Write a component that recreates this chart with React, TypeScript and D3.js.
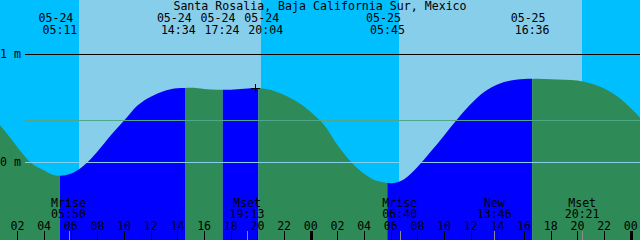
import React from "react";
import * as d3 from "d3";

// ---- data (hours since 05-24 00:00) ----
const title = "Santa Rosalia, Baja California Sur, Mexico";

// hourly water level in metres, starting 05-24 00:00
const tideLevels = [
  0.44, 0.298, 0.14, -0.004, -0.075, -0.125, -0.105, -0.028, 0.1, 0.25,
  0.386, 0.525, 0.607, 0.66, 0.686, 0.689, 0.679, 0.671, 0.672, 0.68,
  0.687, 0.668, 0.622, 0.557, 0.465, 0.344, 0.16, 0.006, -0.105, -0.174,
  -0.193, -0.156, -0.044, 0.099, 0.249, 0.4, 0.539, 0.65, 0.72, 0.757,
  0.77, 0.772, 0.768, 0.763, 0.756, 0.729, 0.682, 0.608, 0.5, 0.372,
];

// high / low tide events
const tideEventDates = ["05-24", "05-24", "05-24", "05-24", "05-25", "05-25"];
const tideEventTimes = ["05:11", "14:34", "17:24", "20:04", "05:45", "16:36"];
const tideEventKinds = ["low", "high", "low", "high", "low", "high"];

// sunrise / sunset
const sunriseTimes = ["05-24 06:36", "05-25 06:36"];
const sunsetTimes = ["05-24 20:14", "05-25 20:20"];

// moon events
const moonNames = ["Mrise", "Mset", "Mrise", "New", "Mset"];
const moonTimes = ["05-24 05:50", "05-24 19:13", "05-25 06:40", "05-25 13:46", "05-25 20:21"];

// hour ticks (hours since 05-24 00:00)
const tickHours = [2, 4, 6, 8, 10, 12, 14, 16, 18, 20, 22, 24, 26, 28, 30, 32, 34, 36, 38, 40, 42, 44, 46, 48];

// level lines
const levelLabels = [1, 0];
const meanSeaLevel = 0.386;

// current-time marker
const markTime = "05-24 19:49";
const markLevel = 0.685;

// ---- helpers ----
function toHours(s: string): number {
  const [md, hm] = s.split(" ");
  const day = +md.split("-")[1];
  const [h, m] = hm.split(":").map(Number);
  return (day - 24) * 24 + h + m / 60;
}

function spread(xs: number[], gap: number): number[] {
  const p = xs.slice();
  for (let k = 0; k < 200; k++) {
    for (let i = 0; i < p.length - 1; i++) {
      const d = p[i + 1] - p[i];
      if (d < gap) {
        const m = (gap - d) / 2;
        p[i] -= m;
        p[i + 1] += m;
      }
    }
  }
  return p;
}

const W = 640;
const H = 240;
const FONT = "'DejaVu Sans Mono', 'Liberation Mono', monospace";
const FS = 11.6;

const NIGHT = "#00BFFF";
const DAY = "#87CEEB";
const RISE = "#0000FF";
const FALL = "#2E8B57";

export default function App() {
  const x = d3.scaleLinear().domain([0.69, 48.69]).range([0, W]);
  const y = d3.scaleLinear().domain([0, 1]).range([162.3, 54.2]);

  const pts = tideLevels.map((v, i) => [i, v] as [number, number]);
  const area = d3
    .area<[number, number]>()
    .x((d) => x(d[0]))
    .y0(H)
    .y1((d) => y(d[1]))
    .curve(d3.curveMonotoneX);
  const areaPath = area(pts) || "";

  const evHours = tideEventTimes.map((t, i) => toHours(tideEventDates[i] + " " + t));

  // fill intervals: rising (low->high) blue, falling seagreen
  const bounds = [x.domain()[0] - 2, ...evHours, x.domain()[1] + 2];
  const intervals = bounds.slice(0, -1).map((b, i) => {
    const next = bounds[i + 1];
    // interval ends at event i; if that event is a high, tide was rising
    const kindAtEnd = i < tideEventKinds.length ? tideEventKinds[i] : tideEventKinds[tideEventKinds.length - 1] === "high" ? "low" : "high";
    return { a: b, b: next, color: kindAtEnd === "high" ? RISE : FALL };
  });

  const labelX = spread(evHours.map((h) => x(h)), 43.7);

  const days = sunriseTimes.map((s, i) => ({ a: toHours(s), b: toHours(sunsetTimes[i]) }));

  const fmt2 = d3.format("02");

  return (
    <svg width={W} height={H} style={{ display: "block" }} xmlns="http://www.w3.org/2000/svg">
      <style>{`body{margin:0}`}</style>
      <defs>
        {intervals.map((iv, i) => (
          <clipPath id={`iv${i}`} key={i}>
            <rect x={x(iv.a)} y={0} width={x(iv.b) - x(iv.a)} height={H} />
          </clipPath>
        ))}
      </defs>
      {/* background */}
      <rect x={0} y={0} width={W} height={H} fill={NIGHT} />
      {days.map((d, i) => (
        <rect key={i} x={x(d.a)} y={0} width={x(d.b) - x(d.a)} height={H} fill={DAY} shapeRendering="crispEdges" />
      ))}
      {/* tide fill */}
      {intervals.map((iv, i) => (
        <path key={i} d={areaPath} fill={iv.color} clipPath={`url(#iv${i})`} />
      ))}
      {/* level lines */}
      <line x1={25} x2={W} y1={y(meanSeaLevel)} y2={y(meanSeaLevel)} stroke="#4FA88C" strokeWidth={1} shapeRendering="crispEdges" />
      {levelLabels.map((lv) => (
        <g key={lv}>
          <line x1={25} x2={W} y1={y(lv)} y2={y(lv)} stroke={lv === 0 ? DAY : "#000"} strokeWidth={1} shapeRendering="crispEdges" />
          <text x={0} y={y(lv) + 4} fontFamily={FONT} fontSize={FS} fill="#000">
            {`${lv} m`}
          </text>
        </g>
      ))}
      {/* marker */}
      <g stroke="#000" strokeWidth={1} shapeRendering="crispEdges">
        <line x1={x(toHours(markTime)) - 4} x2={x(toHours(markTime)) + 4.5} y1={y(markLevel) + 0.5} y2={y(markLevel) + 0.5} />
        <line x1={x(toHours(markTime)) + 0.5} x2={x(toHours(markTime)) + 0.5} y1={y(markLevel) - 4} y2={y(markLevel) + 4.5} />
      </g>
      {/* title */}
      <text x={W / 2} y={10} textAnchor="middle" fontFamily={FONT} fontSize={FS} fill="#000">
        {title}
      </text>
      {/* tide event labels */}
      {tideEventTimes.map((t, i) => (
        <g key={i} fontFamily={FONT} fontSize={FS} fill="#000" textAnchor="middle">
          <text x={labelX[i] - 4} y={21.7}>{tideEventDates[i]}</text>
          <text x={labelX[i]} y={33.8}>{t}</text>
        </g>
      ))}
      {/* moon events */}
      {moonNames.map((n, i) => {
        const h = toHours(moonTimes[i]);
        const xx = x(h);
        return (
          <g key={i}>
            <line x1={Math.round(xx) + 0.5} x2={Math.round(xx) + 0.5} y1={231} y2={H} stroke="#8C8C8C" strokeWidth={1} />
            <text x={xx} y={206.5} textAnchor="middle" fontFamily={FONT} fontSize={FS} fill="#000">
              {n}
            </text>
            <text x={xx} y={218.4} textAnchor="middle" fontFamily={FONT} fontSize={FS} fill="#000">
              {moonTimes[i].split(" ")[1]}
            </text>
          </g>
        );
      })}
      {/* hour ticks */}
      {tickHours.map((h) => {
        const xx = x(h);
        const mid = h % 24 === 0;
        return (
          <g key={h}>
            <line x1={Math.round(xx) + 0.5} x2={Math.round(xx) + 0.5} y1={231} y2={H} stroke="#000" strokeWidth={mid ? 3 : 1} />
            <text x={xx} y={229.8} textAnchor="middle" fontFamily={FONT} fontSize={FS} fill="#000">
              {fmt2(h % 24)}
            </text>
          </g>
        );
      })}
    </svg>
  );
}
